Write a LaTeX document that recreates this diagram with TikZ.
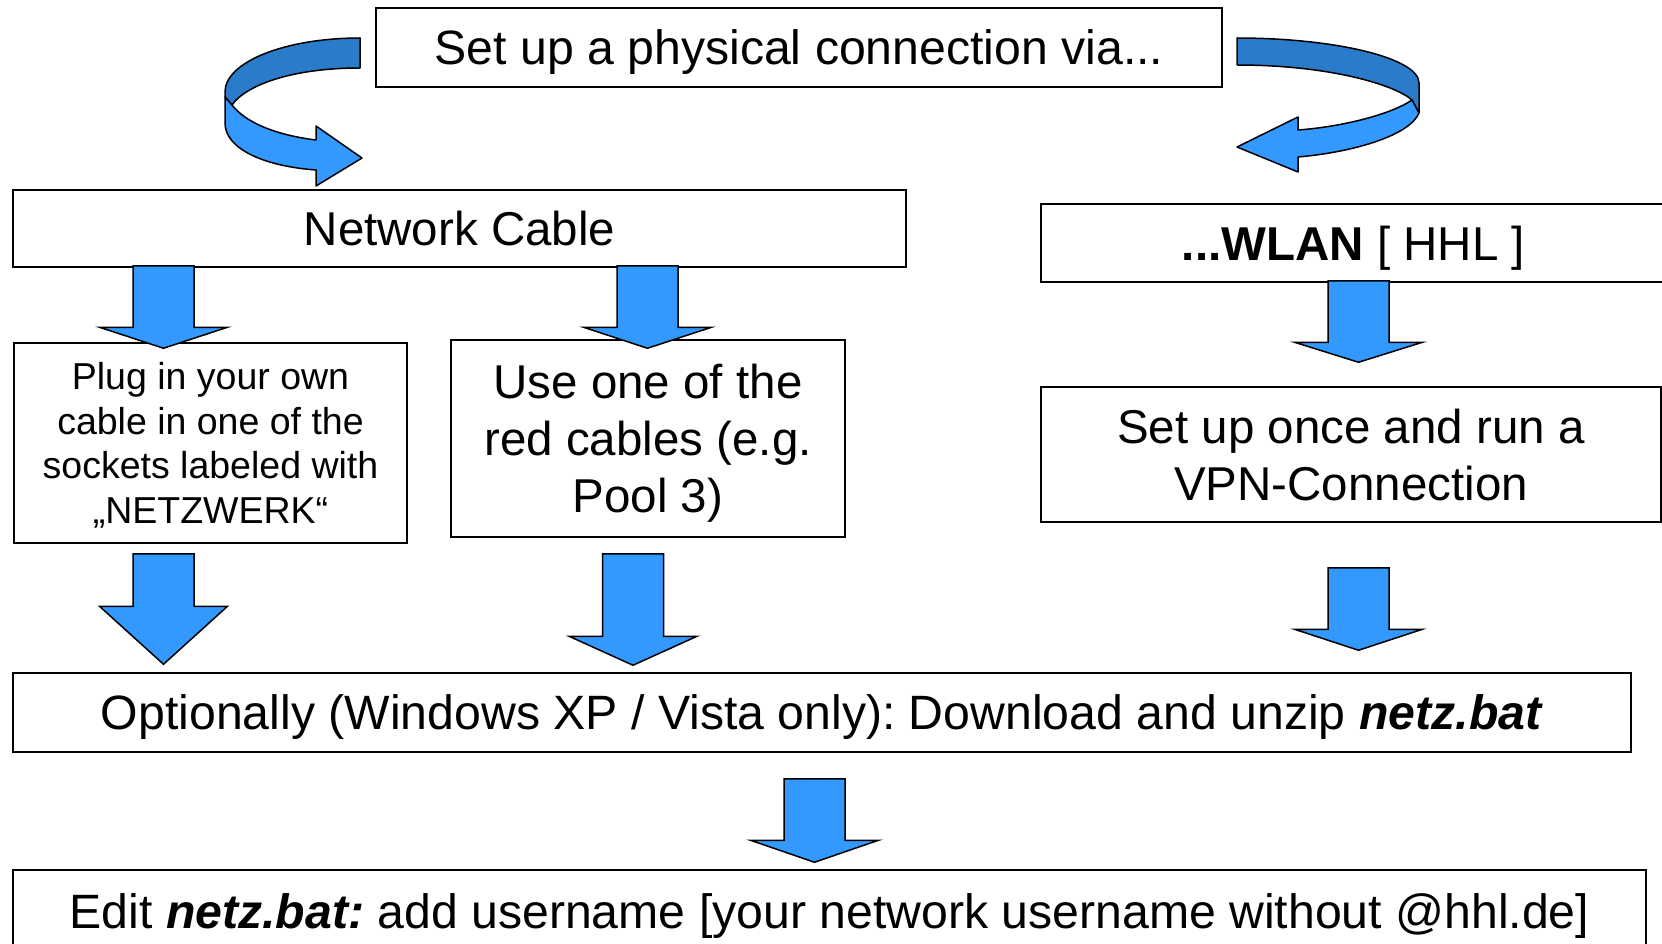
\documentclass[tikz,border=0pt]{standalone}
\usepackage{fontspec}
\setmainfont{Liberation Sans}
\frenchspacing
\usetikzlibrary{positioning, calc}
\definecolor{ArrowBlue}{RGB}{51,153,255}
\definecolor{ArrowDark}{RGB}{43,123,203}

% block arrow: x centre, source node, tail offset, target node, tip offset, head length
\newcommand{\blockarrow}[6]{%
  \draw[blockarrow] let \p1=(#2.south), \p2=(#4.north) in
    ({#1*1pt-30.5pt}, {\y1-(#3)*1pt}) -- ({#1*1pt+30.5pt}, {\y1-(#3)*1pt})
    -- ({#1*1pt+30.5pt}, {\y2-(#5)*1pt+(#6)*1pt}) -- ({#1*1pt+64pt}, {\y2-(#5)*1pt+(#6)*1pt})
    -- ({#1*1pt}, {\y2-(#5)*1pt}) -- ({#1*1pt-64pt}, {\y2-(#5)*1pt+(#6)*1pt})
    -- ({#1*1pt-30.5pt}, {\y2-(#5)*1pt+(#6)*1pt}) -- cycle;}

\begin{document}
\begin{tikzpicture}[x=1pt, y=1pt]
  \tikzstyle{box} = [rectangle, draw=black, line width=1.5pt, fill=white, inner sep=0pt,
    align=center, text depth=0pt, font=\fontsize{47.5}{57}\selectfont]
  \tikzstyle{widebox} = [box, font=\fontsize{48.2}{57}\selectfont]
  \tikzstyle{blockarrow} = [draw=black, line width=1.5pt, fill=ArrowBlue, line join=miter]
  \tikzstyle{ribbon} = [draw=black, line width=1.5pt, line join=round]
  \useasboundingbox (0,0) rectangle (1662,-944);

  \node[widebox, minimum width=846pt, minimum height=79pt] (setup) at (799,-47.5)
    {Set up a physical connection via...};
  \node[box, minimum width=893pt, minimum height=77pt] (cable) at (459.5,-228.5)
    {Network Cable};
  \node[box, minimum width=625pt, minimum height=78pt] (wlan) at (1353.5,-243)
    {\textbf{...WLAN} [ HHL ]};
  \node[box, minimum width=393pt, minimum height=200pt, font=\fontsize{37.5}{44.5}\selectfont]
    (plug) at (210.5,-443)
    {Plug in your own\\cable in one of the\\sockets labeled with\\„NETZWERK“};
  \node[box, minimum width=394pt, minimum height=197pt] (red) at (648,-438.5)
    {Use one of the\\red cables (e.g.\\Pool 3)};
  \node[box, minimum width=620pt, minimum height=135pt] (vpn) at (1351,-454.5)
    {Set up once and run a\\VPN-Connection};
  \node[widebox, minimum width=1618pt, minimum height=79pt] (opt) at (822,-712.5)
    {Optionally (Windows XP / Vista only): Download and unzip \textbf{\textit{netz.bat}}};
  \node[widebox, minimum width=1633pt, minimum height=82pt] (edit) at (829.5,-911)
    {Edit \textbf{\textit{netz.bat:}} add username [your network username without @hhl.de]};

  % straight arrows
  \foreach \xc/\src/\ta/\dst/\tb/\hd in {163.5/cable/-2/plug/6/21, 647.5/cable/-2/red/9/21,
      163.5/plug/10/opt/-8/58, 633/red/16/opt/-7/29, 1358.5/wlan/-2/vpn/-24/20,
      1358.5/vpn/45/opt/-22/21, 814.5/opt/26/edit/-7/22}
    \blockarrow{\xc}{\src}{\ta}{\dst}{\tb}{\hd};

  % curved arrow to the left
  \draw[ribbon, fill=ArrowDark] (360,-38) .. controls (285,-38) and (225,-62) .. (225,-92)
    -- (225,-97) -- (232,-105) .. controls (245,-86) and (290,-68) .. (360,-68) -- cycle;
  \draw[ribbon, fill=ArrowBlue] (232,-105) -- (225,-97) -- (225,-123)
    .. controls (225,-148) and (262,-166) .. (316,-170) -- (316,-186) -- (362,-158)
    -- (316,-126) -- (316,-140) .. controls (275,-135) and (245,-122) .. (232,-105) -- cycle;

  % curved arrow to the right
  \draw[ribbon, fill=ArrowDark] (1237,-38) .. controls (1335,-38) and (1419,-58) .. (1419,-83)
    -- (1419,-113) -- (1412,-100) .. controls (1395,-85) and (1330,-65) .. (1237,-65) -- cycle;
  \draw[ribbon, fill=ArrowBlue] (1412,-100) -- (1419,-113)
    .. controls (1410,-135) and (1355,-152) .. (1298,-157) -- (1298,-172) -- (1237,-147)
    -- (1298,-117) -- (1298,-130) .. controls (1340,-127) and (1390,-115) .. (1412,-100) -- cycle;
\end{tikzpicture}
\end{document}
